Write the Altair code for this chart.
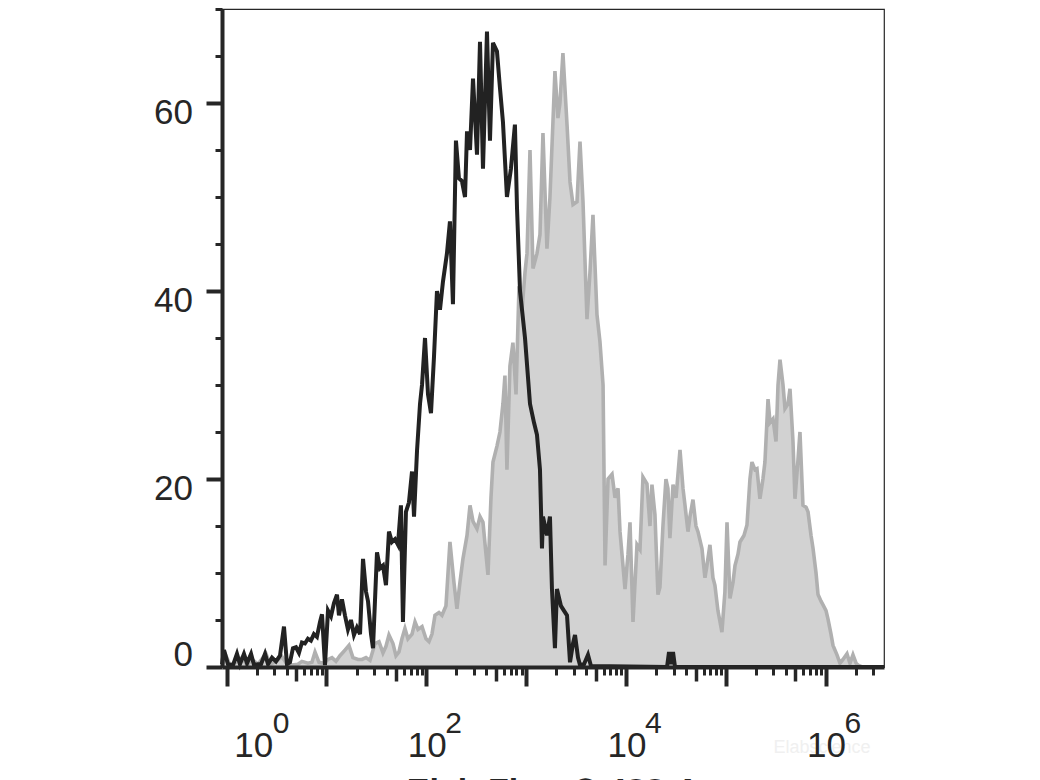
import altair as alt
import pandas as pd

# ---- data: log10 fluorescence (exponent) and event counts ----
control_exp = [
    -0.047, -0.027, 0.013, 0.063, 0.103, 0.133, 0.173, 0.204, 0.244, 0.274,
    0.314, 0.344, 0.384, 0.414, 0.454, 0.494, 0.534, 0.574, 0.604, 0.634,
    0.664, 0.694, 0.724, 0.754, 0.784, 0.814, 0.844, 0.874, 0.904, 0.935,
    0.955, 0.985, 1.015, 1.045, 1.075, 1.105, 1.125, 1.155, 1.185, 1.215,
    1.245, 1.275, 1.305, 1.336, 1.366, 1.396, 1.416, 1.446, 1.466, 1.506,
    1.536, 1.566, 1.596, 1.626, 1.656, 1.686, 1.716, 1.746, 1.766, 1.796,
    1.826, 1.857, 1.877, 1.907, 1.937, 1.957, 1.987, 2.017, 2.047, 2.077,
    2.107, 2.137, 2.167, 2.207, 2.237, 2.267, 2.297, 2.327, 2.357, 2.388,
    2.408, 2.438, 2.468, 2.508, 2.538, 2.568, 2.608, 2.638, 2.668, 2.708,
    2.738, 2.768, 2.808, 2.848, 2.888, 2.909, 2.939, 2.989, 3.039, 3.079,
    3.109, 3.139, 3.159, 3.169, 3.209, 3.239, 3.259, 3.289, 3.309, 3.349,
    3.379, 3.410, 3.440, 3.470, 3.490, 3.520, 3.540, 3.580, 3.620, 3.650,
    4.412, 4.432, 4.452, 4.472, 4.492, 6.586,
]
control_count = [
    0.3, 1.8, 0.3, 0.2, 1.4, 0.3, 1.4, 0.4, 1.4, 0.2,
    0.3, 0.3, 1.4, 0.3, 1.0, 0.6, 1.2, 4.3, 0.3, 0.5,
    2.0, 2.1, 1.5, 2.6, 2.5, 3.0, 2.8, 3.5, 3.2, 4.8,
    5.6, 0.2, 6.0, 5.4, 6.8, 7.7, 5.5, 7.2, 5.5, 4.0,
    5.0, 3.4, 4.2, 3.5, 11.5, 8.0, 7.0, 3.5, 2.0, 12.2,
    10.5, 10.8, 8.7, 14.4, 13.3, 13.6, 13.0, 17.2, 4.8, 16.5,
    17.5, 20.8, 16.0, 23.0, 28.0, 30.0, 35.0, 29.0, 27.0, 33.0,
    40.0, 38.0, 41.0, 44.0, 47.4, 38.6, 56.0, 52.0, 51.7, 50.0,
    57.0, 55.0, 62.6, 54.5, 66.5, 53.0, 67.6, 56.0, 66.4, 65.5,
    61.6, 58.0, 50.0, 53.0, 57.7, 48.8, 40.0, 35.0, 28.0, 26.0,
    24.7, 21.0, 12.6, 16.0, 14.0, 16.0, 8.3, 2.0, 8.3, 6.5,
    6.0, 5.5, 0.5, 2.5, 3.4, 1.0, 0.2, 0.3, 1.3, 0.1,
    0.0, 1.6, 0.3, 1.6, 0.0, 0.0,
]

stained_exp = [
    -0.047, -0.007, 0.033, 0.093, 0.153, 0.204, 0.254, 0.314, 0.364, 0.394,
    0.434, 0.494, 0.554, 0.604, 0.654, 0.714, 0.754, 0.814, 0.854, 0.885,
    0.925, 0.975, 1.015, 1.055, 1.095, 1.135, 1.185, 1.225, 1.265, 1.316,
    1.356, 1.396, 1.436, 1.486, 1.526, 1.566, 1.596, 1.626, 1.666, 1.696,
    1.726, 1.756, 1.786, 1.816, 1.857, 1.887, 1.917, 1.957, 1.997, 2.027,
    2.057, 2.087, 2.127, 2.157, 2.197, 2.237, 2.277, 2.307, 2.337, 2.367,
    2.408, 2.438, 2.468, 2.508, 2.538, 2.568, 2.598, 2.618, 2.648, 2.668,
    2.708, 2.738, 2.768, 2.788, 2.808, 2.838, 2.868, 2.899, 2.929, 2.959,
    2.989, 3.009, 3.039, 3.069, 3.109, 3.139, 3.169, 3.209, 3.239, 3.269,
    3.289, 3.319, 3.339, 3.369, 3.410, 3.440, 3.470, 3.510, 3.540, 3.570,
    3.610, 3.640, 3.670, 3.710, 3.740, 3.771, 3.791, 3.821, 3.861, 3.891,
    3.921, 3.941, 3.991, 4.021, 4.041, 4.071, 4.111, 4.141, 4.171, 4.211,
    4.241, 4.261, 4.291, 4.321, 4.341, 4.371, 4.401, 4.421, 4.441, 4.472,
    4.502, 4.542, 4.572, 4.592, 4.622, 4.642, 4.672, 4.702, 4.722, 4.762,
    4.792, 4.812, 4.842, 4.872, 4.892, 4.922, 4.962, 4.992, 5.013, 5.043,
    5.073, 5.093, 5.123, 5.143, 5.183, 5.213, 5.243, 5.263, 5.293, 5.313,
    5.343, 5.373, 5.393, 5.424, 5.444, 5.474, 5.504, 5.524, 5.544, 5.574,
    5.594, 5.624, 5.644, 5.674, 5.694, 5.724, 5.744, 5.774, 5.805, 5.825,
    5.855, 5.875, 5.905, 5.925, 5.955, 5.975, 6.005, 6.025, 6.055, 6.075,
    6.115, 6.145, 6.175, 6.215, 6.245, 6.275, 6.306, 6.326, 6.366, 6.586,
]
stained_count = [
    0.0, 1.2, 0.2, 0.5, 1.0, 0.2, 0.8, 0.3, 1.0, 1.4,
    0.3, 0.6, 1.1, 0.3, 0.2, 0.3, 0.6, 0.4, 0.5, 1.6,
    0.5, 0.4, 0.8, 1.0, 0.6, 1.2, 1.8, 2.3, 1.0, 0.8,
    0.8, 1.0, 0.7, 2.5, 2.7, 1.5, 2.2, 3.4, 2.5, 1.2,
    1.6, 3.0, 4.1, 3.0, 3.5, 4.8, 4.0, 4.3, 3.0, 2.7,
    3.5, 5.5, 5.8, 5.5, 6.5, 13.3, 9.0, 6.2, 9.0, 11.5,
    14.0, 17.2, 15.5, 14.7, 16.0, 15.4, 12.0, 9.8, 18.0, 21.8,
    23.5, 25.0, 28.0, 31.0, 21.0, 32.0, 34.5, 29.0, 40.5, 38.0,
    42.0, 44.0, 55.0, 42.4, 44.0, 46.0, 56.8, 44.5, 50.0, 58.0,
    63.4, 58.4, 60.0, 65.3, 57.7, 51.6, 49.2, 49.5, 55.9, 49.5,
    37.0, 42.0, 48.1, 37.5, 34.6, 30.0, 10.8, 20.0, 20.5, 18.0,
    19.0, 14.4, 8.3, 12.0, 15.4, 4.8, 13.0, 12.5, 20.2, 19.5,
    15.0, 19.4, 16.2, 7.7, 8.5, 15.0, 20.0, 19.0, 13.7, 19.4,
    18.0, 23.1, 19.0, 17.2, 14.4, 16.0, 17.8, 15.0, 14.4, 12.6,
    9.5, 10.8, 13.0, 9.5, 8.7, 6.0, 3.7, 8.0, 15.4, 7.3,
    9.0, 10.8, 12.0, 13.3, 14.0, 15.1, 20.0, 21.8, 21.0, 21.1,
    17.9, 20.0, 21.8, 28.5, 26.0, 26.4, 24.0, 30.0, 32.7, 30.0,
    27.5, 28.0, 29.6, 24.0, 17.9, 22.0, 25.0, 17.2, 17.0, 16.5,
    14.0, 12.6, 10.0, 7.7, 7.0, 6.6, 6.0, 5.1, 3.5, 2.3,
    1.3, 0.4, 0.8, 1.4, 0.4, 1.3, 0.4, 0.2, 0.0, 0.0,
]

x_domain_exp = [-0.047, 6.586]
decade_ticks = [10 ** k for k in range(0, 7)]
five_ticks = [5 * 10 ** k for k in range(0, 6)]
minor_ticks = [m * 10 ** k for k in range(0, 6) for m in (2, 3, 4, 6, 7, 8, 9)] + [2e6, 3e6]
y_major = [0, 20, 40, 60]
y_minor = [5, 10, 15, 25, 30, 35, 45, 50, 55, 65, 70]
x_label_values = [100, 10000, 1000000]
x_label_exps = ["2", "4", "6"]
first_label_value = [1]
first_label_exp = ["0"]
y_label_values = [20, 40, 60]
x_title = "Elab Fluor® 488-A"

FONT = "Liberation Sans Narrow, Arial Narrow, Liberation Sans, Arial"
INK = "#262626"

control = pd.DataFrame({"x": [10 ** e for e in control_exp], "y": control_count})
stained = pd.DataFrame({"x": [10 ** e for e in stained_exp], "y": stained_count})

xscale = alt.Scale(type="log", domain=[10 ** x_domain_exp[0], 10 ** x_domain_exp[1]], nice=False)
yscale = alt.Scale(domain=[0, 70], nice=False, zero=True)

ax_major = alt.Axis(orient="bottom", values=decade_ticks, labels=False, tickSize=19, tickWidth=4,
                    tickColor=INK, domainColor=INK, domainWidth=4, grid=False,
                    title=x_title, titleFont=FONT, titleFontSize=34, titleFontWeight="bold",
                    titleColor=INK, titlePadding=86, zindex=1)
ax_five = alt.Axis(orient="bottom", values=five_ticks, labels=False, tickSize=14, tickWidth=3.5,
                   tickColor=INK, domain=False, grid=False, title=None, zindex=1)
ax_minor = alt.Axis(orient="bottom", values=minor_ticks, labels=False, tickSize=8, tickWidth=3,
                    tickColor=INK, domain=False, grid=False, title=None, zindex=1)
ay_major = alt.Axis(orient="left", values=y_major, labels=False, tickSize=16, tickWidth=4,
                    tickColor=INK, domainColor=INK, domainWidth=4, grid=False, title=None, zindex=1)
ay_minor = alt.Axis(orient="left", values=y_minor, labels=False, tickSize=7, tickWidth=3,
                    tickColor=INK, domain=False, grid=False, title=None, zindex=1)

stained_layer = alt.Chart(stained).mark_area(
    color="#d2d2d2", opacity=1, fillOpacity=1,
    line={"color": "#b0b0b0", "strokeWidth": 3.6, "opacity": 1}
).encode(
    x=alt.X("x:Q", scale=xscale, axis=ax_major),
    y=alt.Y("y:Q", scale=yscale, axis=ay_major),
)

control_layer = alt.Chart(control).mark_line(color="#222222", strokeWidth=4, opacity=1).encode(
    x=alt.X("x:Q", scale=xscale, axis=ax_five),
    y=alt.Y("y:Q", scale=yscale, axis=ay_minor),
)

xl = pd.DataFrame({"x": x_label_values, "e": x_label_exps})
xl0 = pd.DataFrame({"x": first_label_value, "e": first_label_exp})

base10 = alt.Chart(xl).mark_text(text="10", font=FONT, fontSize=35, color=INK,
                                 align="center", baseline="alphabetic", dx=1).encode(
    x=alt.X("x:Q", scale=xscale, axis=ax_minor), y=alt.value(748))
sup = alt.Chart(xl).mark_text(font=FONT, fontSize=30, color=INK,
                              align="left", baseline="alphabetic", dx=19).encode(
    x=alt.X("x:Q", scale=xscale, axis=None), y=alt.value(724), text="e:N")
base10_0 = alt.Chart(xl0).mark_text(text="10", font=FONT, fontSize=35, color=INK,
                                    align="center", baseline="alphabetic", dx=27).encode(
    x=alt.X("x:Q", scale=xscale, axis=None), y=alt.value(748))
sup_0 = alt.Chart(xl0).mark_text(font=FONT, fontSize=30, color=INK,
                                 align="left", baseline="alphabetic", dx=46).encode(
    x=alt.X("x:Q", scale=xscale, axis=None), y=alt.value(724), text="e:N")

yl = pd.DataFrame({"y": y_label_values, "t": [str(v) for v in y_label_values]})
yl0 = pd.DataFrame({"y": [0], "t": ["0"]})
ylab = alt.Chart(yl).mark_text(font=FONT, fontSize=35, color=INK, align="right",
                               baseline="middle", dy=10).encode(
    x=alt.value(-29), y=alt.Y("y:Q", scale=yscale, axis=None), text="t:N")
ylab0 = alt.Chart(yl0).mark_text(font=FONT, fontSize=35, color=INK, align="right",
                                 baseline="middle", dy=-12).encode(
    x=alt.value(-29), y=alt.Y("y:Q", scale=yscale, axis=None), text="t:N")

wm = alt.Chart(pd.DataFrame({"t": ["Elabscience"]})).mark_text(
    font="Liberation Sans", fontSize=18, color="#f0f0f0", align="center", baseline="middle"
).encode(x=alt.value(600), y=alt.value(739), text="t:N")

chart = alt.layer(
    wm, stained_layer, control_layer, base10, sup, base10_0, sup_0, ylab, ylab0
).resolve_axis(x="independent", y="independent").properties(
    width=662, height=658,
    autosize=alt.AutoSizeParams(type="none"),
    padding={"left": 214, "top": 1, "right": 140, "bottom": 125},
).configure_view(stroke=INK, strokeWidth=1.2)

chart.save("out.html", embed_options={"renderer": "svg", "actions": False})
